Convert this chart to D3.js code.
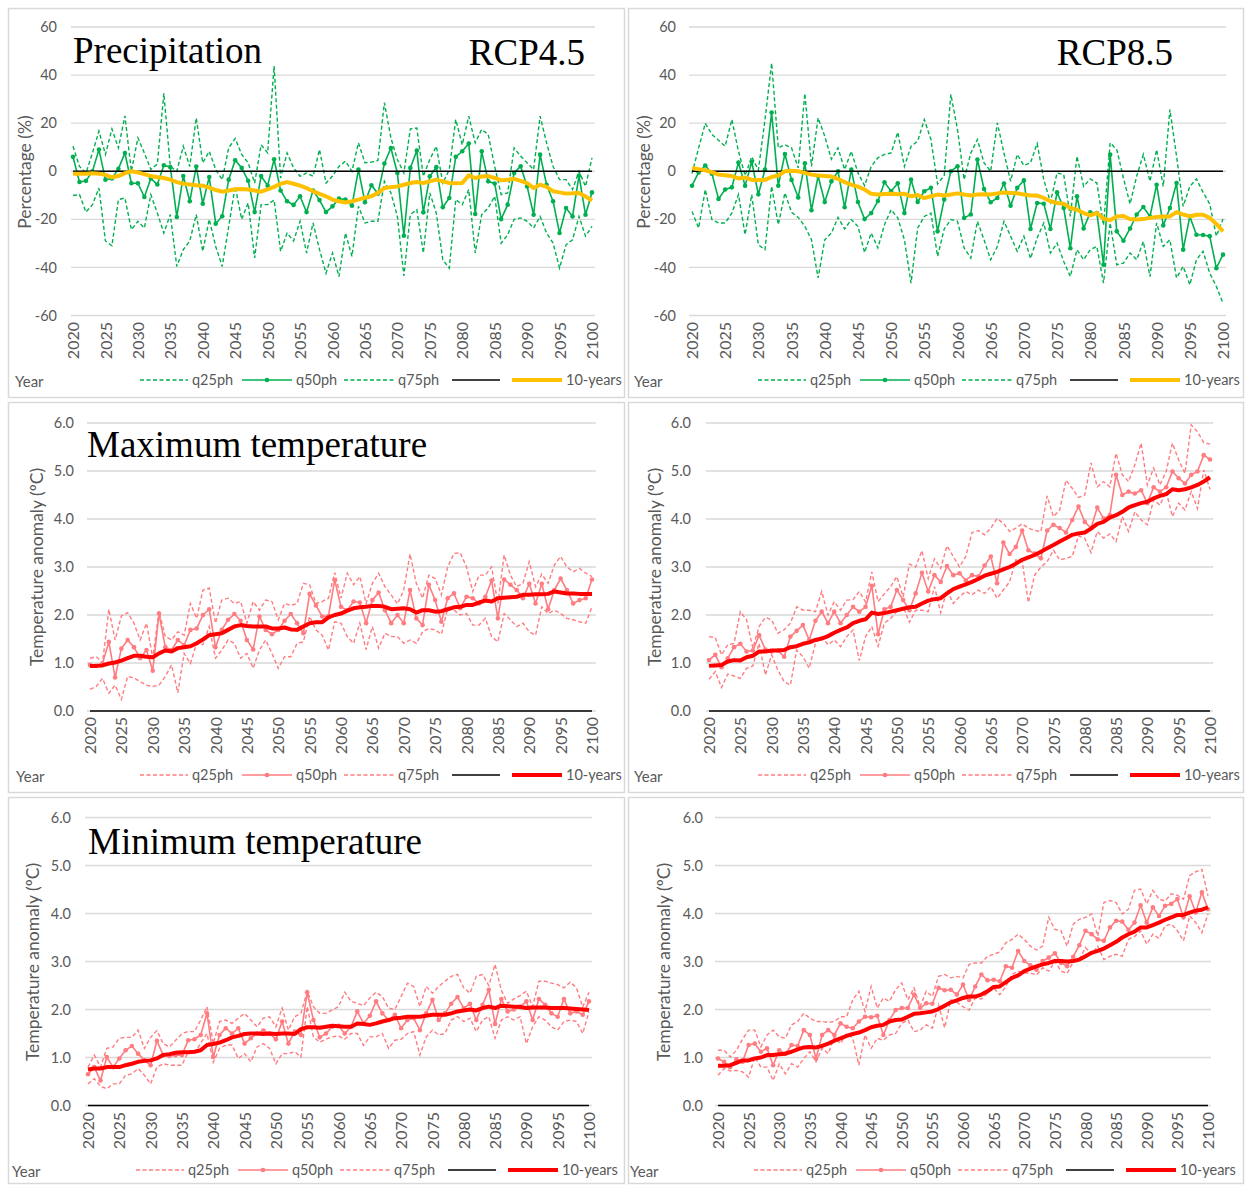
<!DOCTYPE html>
<html><head><meta charset="utf-8">
<script src="https://cdn.jsdelivr.net/npm/d3@7"></script>
<style>body{margin:0;background:#fff} svg{display:block}</style>
</head><body>
<svg id="c" width="1248" height="1186"></svg>
<script>
const years = d3.range(2020, 2101);
const yearTicks = d3.range(2020, 2101, 5);
const precipTicks = [-60, -40, -20, 0, 20, 40, 60];
const tempTicks = [0, 1, 2, 3, 4, 5, 6];
const legendLabels = ["q25ph", "q50ph", "q75ph", "", "10-years"];

// ---- Precipitation RCP4.5 (%) ----
const p45_q25 = [-10.1,-9.7,-17,-13.9,-7,-29,-31,-11.8,-11.1,-24.3,-20.8,-23.6,-9.7,-17.4,-25.7,-18,-39.6,-32.6,-29,-18,-33.3,-20,-31.3,-39.6,-22.9,-6.3,-20,-13.2,-36.1,-13.9,-13.9,-12,-33.3,-25.7,-29,-20.8,-34,-21.5,-32.6,-42.4,-34,-43.8,-25.7,-35.4,-14.6,-21.5,-20.8,-20.8,-4.2,-9,-18.8,-43.5,-18,-16,-34,-9,-17.4,-36.8,-40.3,-11.8,-13.9,-7.6,-34,-18,-15.3,-10.4,-29.9,-26.4,-20,-19.4,-20.8,-23.6,-18.8,-25.7,-29.9,-40.3,-30.6,-28.5,-18.8,-27,-22.9];
const p45_q50 = [6,-4.5,-4,0,9,-3.5,-3,1,7.6,-5,-5,-10.7,-3,-5.5,2.5,1.7,-19,-2,-12.5,2,-13.5,-2.4,-21.8,-18.7,-3.5,4.6,1.4,-4,-17,-2,-6,5,-8,-12.5,-14,-10.4,-17,-8,-12,-17,-14.6,-11.4,-11.8,-14.3,0.7,-12.9,-5.8,-9.3,3.2,9.7,-0.7,-26.8,1.4,8.6,-17.1,-2.1,1.7,-15,-11.1,6,8.3,11.5,-17.8,8.3,-4.2,-5.1,-19.9,-13.9,-0.7,2.1,-6.3,-18.1,6.9,-5.6,-12.5,-25.7,-15.3,-18.8,-1.8,-18.1,-8.8];
const p45_q75 = [10.4,2,-0.7,7.6,16.7,7,17.6,9.7,23,0,13.9,7.6,0.7,3,32.4,2,0,10.4,2,22.2,3.5,8.3,0.7,-3.5,9.7,13.6,7,3.5,-4.9,11,7.6,43.8,-2.8,7.6,1.4,-2.1,-0.7,-2.1,9,-4.9,-2,2,4.2,0,11.8,3.5,3.8,4.5,28.5,13.9,4.9,-0.7,17.6,18,-2.1,4.9,10.4,-4.9,0.7,21.5,11,22.9,11.8,17.4,15.3,2,-9.7,-9,9.7,6.3,3.5,0.7,22.9,11.8,2,-3.5,-3.5,-7.6,0,-6.3,5.6];
const p45_ma = [-1,-1,-1,-0.8,-1,-1.5,-2.5,-2,-0.8,0,-0.5,-1.2,-2,-2.5,-2.8,-3.5,-4.5,-5.2,-5.5,-5.8,-6,-6.8,-7.8,-8.5,-8,-7.5,-7.4,-7.6,-8,-8.5,-7.5,-6.5,-5.2,-4.5,-5.2,-6,-7,-8.3,-9.4,-10.4,-11.8,-12.5,-13,-12.5,-11.8,-11,-10.4,-9,-7,-6.6,-6.3,-5.6,-4.9,-4.5,-4.9,-4.2,-3.5,-4.2,-4.9,-5,-4.9,-1.7,-2.8,-2.2,-2,-2.8,-3.8,-3.5,-3.2,-4,-4.9,-7,-5.6,-6.5,-8.3,-8.8,-9.3,-9.2,-9,-10.5,-12.2];

// ---- Precipitation RCP8.5 (%) ----
const p85_q25 = [-16.7,-23.6,-7.6,-20.1,-21.5,-21.5,-17.4,-9.7,-26.4,-9.7,-30.6,-32.6,-6.3,-22.2,-9,-17.1,-19.2,-22.9,-28.5,-44.4,-28.5,-25.7,-19.2,-24,-20.1,-22.9,-33.8,-25.7,-31.9,-22.2,-16,-19.4,-28.5,-46.5,-23.6,-18.8,-17.4,-35.4,-24,-20.1,-20.8,-31.9,-36.1,-20.8,-28.5,-36.8,-31.3,-20.8,-27,-33.3,-27,-36.3,-27.8,-21.5,-34,-29.9,-37.5,-43.8,-32.6,-36.8,-32.6,-31.3,-46.5,-21.5,-38.9,-38.2,-34,-36.8,-29.2,-43.8,-21.5,-31.3,-28.5,-44.4,-39.6,-47.2,-36.8,-33.3,-42.4,-47.9,-54.9];
const p85_q50 = [-6,-0.5,2.4,-1,-11.5,-7.6,-6.7,3.6,-6,3.9,-9.6,0.7,24.4,-6,7.2,-3.6,-10.9,3.3,-16.2,-2,-12.8,-4.2,0,-15,0.7,-12.8,-19.9,-17.4,-12.4,-4.6,-8.3,-5,-17.4,-3.5,-12.8,-8.3,-6.9,-25,-11.7,0,2.1,-19.4,-18,4.9,-7.4,-12.9,-11.1,-5.1,-14.3,-6.9,-3.8,-24,-13.2,-13.5,-24,-8.8,-15.3,-32,-10.4,-23.8,-17.1,-17.4,-38.9,6.9,-25,-28.9,-23.8,-18,-14.9,-18.8,-5.6,-22.5,-15.3,-4.9,-32.6,-18.8,-26.4,-26.5,-27,-40.3,-34.7];
const p85_q75 = [-1,9.7,19.9,15.3,12.9,10.4,21.5,8.3,-1.8,6,0.5,21.5,45,9.7,11,9.7,1.4,32.4,2,22.2,14.6,5,9.7,0.7,8.3,-0.7,-6,2,5.6,7,7.6,16.2,2,10.4,12.5,21.5,13.2,-5.3,-1.8,32,17.4,-3.5,7.6,13.2,3.5,0,20.1,7.6,-4.2,7,2.4,3.5,11.5,-3.5,-12.9,-0.7,-1.4,-18.8,6.3,-6.3,-3.2,-4.9,-22.5,11.8,9,-2.8,-13.6,-2,7,-4.2,9,-6.3,25.7,6.3,-14.6,-6.3,-3.2,-8.8,-13.6,-27,-19.9];
const p85_ma = [1.4,0.8,0.4,-0.4,-1.4,-1.7,-2,-3,-2.6,-3.6,-3.6,-3.6,-2.4,-1.8,0,0.2,0,-0.7,-1.4,-1.8,-2,-2.2,-3.2,-4.5,-5.6,-6.4,-7.6,-9.4,-9.7,-9.5,-9.4,-9.6,-9.4,-10.4,-9.9,-11.2,-10.4,-9.7,-10.1,-9.7,-9.2,-9.7,-10.1,-9.7,-9.6,-9.7,-9.2,-8.8,-9,-9.2,-9.7,-10.1,-10.1,-11.1,-12.5,-13.2,-13.5,-15.3,-16,-17.4,-18.3,-17.4,-19.7,-20.4,-18.8,-18.6,-19.9,-20.1,-19.9,-19.4,-19,-18.8,-18.8,-17,-18,-18.8,-18.1,-18.1,-19.4,-21.9,-25];

// ---- Maximum temperature RCP4.5 (ºC) ----
const tx45_q25 = [0.45,0.51,0.68,0.37,0.54,0.24,0.72,0.69,0.61,0.54,0.51,0.54,0.72,0.96,0.38,1.2,0.99,1.41,1.38,1.76,1.1,1.27,1.48,1.41,1.1,1.2,0.89,1.27,1.48,1.2,0.89,1.13,1.13,1.41,1.44,1.97,1.69,1.58,1.27,1.86,1.83,1.55,1.41,1.83,1.28,1.76,1.31,1.62,1.55,1.55,1.41,1.48,1.41,1.65,1.72,1.69,1.6,2.14,2.1,2.0,2.03,1.79,1.79,1.93,1.55,1.44,2.03,1.9,1.76,1.83,1.65,1.58,2.17,2.03,2.1,2.03,1.93,1.9,1.86,1.83,2.17];
const tx45_q50 = [0.96,0.94,0.99,1.44,0.7,1.3,1.48,1.33,1.1,1.27,0.84,2.03,1.33,1.27,1.48,1.37,1.69,1.72,2.0,2.12,1.33,1.69,1.9,2.02,1.88,1.48,1.28,1.97,1.69,1.6,1.69,1.88,2.02,1.83,1.62,2.44,2.2,1.97,1.98,2.73,2.17,2.1,2.28,2.26,1.83,2.31,2.47,2.1,1.83,2.0,1.83,2.52,1.93,1.79,2.63,2.31,1.86,2.35,2.45,2.14,2.38,2.35,2.24,2.38,2.72,1.93,2.74,2.63,2.52,2.35,2.65,2.24,2.65,2.12,2.52,2.76,2.52,2.24,2.31,2.35,2.74];
const tx45_q75 = [1.1,1.13,1.0,2.12,1.48,1.98,2.05,1.83,1.48,1.83,1.1,2.08,1.55,1.48,1.65,1.58,2.24,1.93,2.52,2.56,1.83,2.31,2.35,2.24,2.28,1.83,2.28,2.1,2.31,2.28,1.9,2.24,2.2,2.24,2.66,2.63,2.24,2.28,2.35,2.88,2.35,2.87,2.63,2.8,2.24,2.66,2.87,2.59,2.42,2.23,2.52,3.27,2.66,2.35,2.83,2.76,2.42,3.0,3.28,3.3,3.0,2.49,2.83,2.83,3.0,2.24,3.25,2.83,2.59,2.66,3.11,2.59,2.85,2.66,3.04,3.22,3.0,2.9,2.97,2.87,2.8];
const tx45_ma = [0.94,0.94,0.95,0.99,1.01,1.05,1.1,1.15,1.15,1.13,1.12,1.2,1.26,1.24,1.31,1.33,1.35,1.41,1.49,1.58,1.6,1.62,1.69,1.76,1.79,1.77,1.76,1.76,1.76,1.72,1.72,1.74,1.7,1.69,1.76,1.83,1.85,1.85,1.95,2.0,2.03,2.09,2.14,2.16,2.17,2.19,2.19,2.17,2.12,2.13,2.14,2.12,2.05,2.1,2.1,2.07,2.08,2.12,2.16,2.17,2.21,2.21,2.26,2.3,2.28,2.35,2.36,2.37,2.38,2.42,2.42,2.43,2.43,2.44,2.49,2.47,2.45,2.45,2.44,2.44,2.44];

// ---- Maximum temperature RCP8.5 (ºC) ----
const tx85_q25 = [0.66,0.82,0.49,0.77,0.73,0.68,0.89,0.94,1.41,0.75,1.17,0.85,0.61,0.54,1.27,1.13,0.89,1.41,1.55,1.38,1.48,1.34,1.55,1.69,1.05,1.55,1.76,1.35,1.83,1.93,2.07,2.17,1.85,2.1,2.1,2.07,2.59,2.05,2.52,2.24,2.38,2.49,2.42,2.52,2.45,2.59,2.35,2.52,2.69,3.15,3.12,2.26,2.83,3.0,3.11,3.35,3.15,3.18,3.22,3.65,3.6,3.3,3.74,3.6,3.69,3.53,4.05,3.74,4.15,3.98,3.88,4.4,4.29,4.57,4.05,4.33,4.19,4.57,4.22,5.02,4.62];
const tx85_q50 = [1.06,1.17,0.91,1.1,1.33,1.4,1.24,1.26,1.58,1.28,1.24,1.26,1.13,1.55,1.67,1.79,1.48,1.88,2.07,1.83,2.07,1.83,2.0,2.17,2.07,2.17,2.61,1.6,2.12,2.17,2.52,2.31,2.1,2.45,2.88,2.49,2.83,2.69,3.02,2.83,2.87,2.72,2.83,2.8,3.03,3.22,2.66,3.51,3.27,3.42,3.76,3.35,3.28,3.18,3.76,3.88,3.81,3.72,3.98,4.26,3.94,3.81,4.24,4.01,4.08,4.92,4.5,4.57,4.53,4.6,4.33,4.66,4.57,4.66,4.99,4.85,4.74,4.92,4.99,5.33,5.24];
const tx85_q75 = [1.55,1.53,1.17,1.38,1.41,2.07,1.9,1.31,1.76,1.95,1.9,1.62,1.69,1.83,2.17,2.1,2.1,2.07,2.49,2.0,2.28,2.1,2.31,2.32,2.49,2.27,2.9,2.28,2.44,2.59,2.8,2.38,3.06,3.0,3.34,2.76,3.17,2.97,3.44,3.22,3.0,3.22,3.72,3.76,3.67,3.81,4.01,3.91,3.74,3.81,3.9,3.81,3.76,3.74,4.48,4.05,4.19,4.81,4.64,4.45,4.5,5.17,4.67,4.78,4.67,5.37,4.92,4.78,5.13,5.58,4.71,5.06,4.71,4.99,5.58,5.23,4.95,5.96,5.82,5.59,5.56];
const tx85_ma = [0.94,0.95,0.96,1.03,1.06,1.05,1.12,1.15,1.24,1.24,1.26,1.26,1.27,1.33,1.35,1.4,1.43,1.48,1.51,1.56,1.63,1.69,1.74,1.83,1.88,1.91,2.05,2.02,2.04,2.07,2.1,2.13,2.16,2.17,2.24,2.3,2.33,2.35,2.45,2.54,2.59,2.64,2.69,2.75,2.82,2.86,2.9,2.95,3.0,3.07,3.15,3.2,3.25,3.32,3.39,3.46,3.53,3.6,3.67,3.7,3.72,3.8,3.9,3.94,4.03,4.08,4.15,4.24,4.29,4.33,4.36,4.43,4.48,4.52,4.62,4.6,4.62,4.66,4.71,4.78,4.87];

// ---- Minimum temperature RCP4.5 (ºC) ----
const tn45_q25 = [0.45,0.56,0.4,0.35,0.45,0.45,0.63,0.66,0.77,0.63,0.45,0.8,0.87,0.84,0.84,0.84,1.12,1.08,1.3,1.5,0.9,1.19,1.26,1.26,0.98,1.08,0.91,1.22,1.29,1.19,0.87,1.08,1.08,1.12,1.01,2.06,1.43,1.32,1.38,1.43,1.45,1.38,1.5,1.5,1.25,1.43,1.43,1.5,1.19,1.36,1.38,1.5,1.54,1.05,1.43,1.57,1.47,1.5,1.78,1.85,1.75,1.82,1.54,1.78,1.85,1.4,1.78,1.85,1.78,1.85,1.29,1.64,1.85,1.78,1.64,1.57,1.75,1.78,1.75,1.5,1.95];
const tn45_q50 = [0.65,0.8,0.52,1.01,0.8,0.98,1.15,1.24,1.08,0.94,0.84,1.35,1.05,1.03,1.05,1.05,1.36,1.38,1.47,1.92,1.01,1.47,1.61,1.5,1.61,1.29,1.4,1.5,1.56,1.5,1.38,1.75,1.29,1.54,1.47,2.36,1.78,1.42,1.5,1.64,1.66,1.5,1.64,1.96,1.71,1.87,2.17,1.92,1.78,1.89,1.61,1.78,1.82,1.57,1.92,2.2,1.78,1.92,2.12,2.26,2.03,2.12,1.78,2.1,2.41,1.7,2.22,1.96,2.0,2.06,2.17,1.78,2.22,2.1,1.92,1.85,2.22,1.92,1.96,1.89,2.17];
const tn45_q75 = [0.8,1.05,0.8,1.19,1.22,1.4,1.42,1.42,1.57,1.19,1.42,1.56,1.29,1.22,1.36,1.5,1.54,1.54,1.78,2.06,1.29,1.75,1.78,1.71,1.82,1.92,1.78,1.64,1.82,1.85,1.64,2.03,1.57,1.85,1.92,2.38,2.06,1.92,1.92,1.99,2.06,2.36,2.17,2.13,2.08,2.24,2.36,2.27,2.03,2.0,2.27,2.55,2.48,2.06,2.48,2.34,2.48,2.59,2.69,2.73,2.45,2.34,2.69,2.73,2.5,2.94,2.4,2.13,2.22,2.29,2.38,2.06,2.59,2.59,2.55,2.52,2.45,2.57,2.45,2.05,2.36];
const tn45_ma = [0.75,0.77,0.77,0.8,0.8,0.8,0.84,0.87,0.91,0.93,0.94,0.98,1.05,1.07,1.1,1.11,1.11,1.12,1.15,1.26,1.28,1.31,1.36,1.42,1.45,1.49,1.5,1.5,1.49,1.5,1.49,1.5,1.5,1.49,1.59,1.63,1.63,1.62,1.64,1.66,1.65,1.64,1.64,1.71,1.7,1.68,1.71,1.75,1.78,1.82,1.83,1.85,1.85,1.85,1.87,1.89,1.89,1.89,1.92,1.96,1.98,2.0,1.98,2.03,2.06,2.03,2.08,2.07,2.06,2.05,2.03,2.04,2.04,2.04,2.03,2.03,2.03,2.02,2.01,2.0,1.99];

// ---- Minimum temperature RCP8.5 (ºC) ----
const tn85_q25 = [0.63,0.77,0.72,0.73,0.7,0.59,1.01,0.8,0.8,0.52,0.87,0.66,0.87,0.8,0.98,1.12,0.91,1.19,1.08,1.43,1.29,1.5,1.4,0.84,1.47,1.19,1.4,1.36,1.47,1.5,1.71,1.78,1.54,1.57,1.68,1.61,2.1,1.62,2.2,2.15,2.06,1.99,2.24,2.22,2.34,2.45,2.31,2.48,2.73,2.8,2.76,2.76,2.72,2.87,2.8,3.0,2.8,2.75,2.99,3.04,3.29,3.15,3.32,3.04,3.11,3.15,3.11,3.46,3.52,3.64,3.36,3.57,3.48,3.74,3.78,3.64,3.43,3.95,3.81,3.6,3.99];
const tn85_q50 = [0.98,0.91,0.8,0.96,0.91,1.26,1.29,1.12,1.19,0.84,1.15,1.08,1.26,1.24,1.57,1.47,0.98,1.47,1.57,1.47,1.71,1.64,1.61,1.75,1.85,1.84,1.87,1.47,1.78,1.99,2.03,2.03,2.31,2.03,2.13,2.12,2.45,2.4,2.41,2.31,2.52,2.2,2.48,2.73,2.61,2.62,2.59,2.9,2.87,3.22,3.01,2.92,2.83,3.01,3.08,3.17,2.97,2.9,3.1,3.34,3.64,3.57,3.46,3.43,3.71,3.85,3.83,3.66,3.81,4.17,3.81,4.13,3.95,4.16,4.2,4.3,3.92,4.36,4.02,4.44,4.09];
const tn85_q75 = [1.15,1.15,1.01,1.15,1.38,1.57,1.57,1.22,1.47,1.57,1.43,1.4,1.68,1.75,1.92,1.82,1.75,1.75,1.73,1.75,1.85,1.85,2.2,2.38,1.96,2.48,2.03,2.24,2.17,2.41,2.55,2.2,2.45,2.06,2.38,2.27,2.69,2.73,2.66,2.69,2.66,2.94,2.97,2.97,3.11,3.15,3.2,3.39,3.46,3.57,3.46,3.32,3.24,3.32,3.92,3.67,3.64,3.32,3.78,3.88,3.92,3.99,3.53,4.23,4.27,4.23,3.99,4.09,4.48,4.51,4.2,4.48,4.3,4.26,4.41,4.38,4.3,4.79,4.87,4.92,4.37];
const tn85_ma = [0.83,0.83,0.84,0.89,0.94,0.94,0.98,1.0,1.05,1.05,1.07,1.08,1.12,1.17,1.21,1.22,1.21,1.24,1.29,1.35,1.4,1.45,1.49,1.52,1.57,1.63,1.66,1.68,1.75,1.78,1.79,1.85,1.91,1.92,1.94,1.96,2.01,2.08,2.15,2.19,2.24,2.27,2.27,2.31,2.38,2.47,2.48,2.57,2.66,2.71,2.8,2.85,2.9,2.94,2.97,3.01,3.01,3.0,3.01,3.04,3.11,3.18,3.22,3.27,3.34,3.41,3.5,3.57,3.62,3.71,3.71,3.76,3.81,3.87,3.92,3.97,3.97,4.02,4.06,4.08,4.13];

const GREEN = "#00b050", ORANGE = "#ffc000", LRED = "#ff7c80", RED = "#ff0000";
const GRID = "#d9d9d9", TXT = "#595959";
const SANS = "Lato, 'Open Sans', sans-serif";
const SERIF = "'Liberation Serif', 'DejaVu Serif', serif";

const svg = d3.select("#c");
svg.append("rect").attr("width", 1248).attr("height", 1186).attr("fill", "#fff");

function drawPanel(c) {
  const g = svg.append("g");
  g.append("rect").attr("x", c.frame[0] + 0.5).attr("y", c.frame[1] + 0.5)
    .attr("width", c.frame[2]).attr("height", c.frame[3])
    .attr("fill", "none").attr("stroke", GRID).attr("stroke-width", 1.5);

  const x = d3.scaleLinear().domain([2020, 2100]).range(c.xr);
  const y = d3.scaleLinear().domain(c.yd).range(c.yr);

  // gridlines
  g.selectAll("line.grid").data(c.ticks).join("line")
    .attr("x1", c.gx[0]).attr("x2", c.gx[1])
    .attr("y1", d => y(d)).attr("y2", d => y(d))
    .attr("stroke", GRID).attr("stroke-width", 1.4);

  // y tick labels
  const ya = d3.axisLeft(y).tickValues(c.ticks).tickSize(0).tickPadding(0).tickFormat(c.fmt);
  const yg = g.append("g").attr("transform", `translate(${c.tickRight},0)`).call(ya);
  yg.select(".domain").remove();
  yg.selectAll("text").attr("fill", TXT).style("font-family", SANS).style("font-size", "14.5px");

  // x (year) labels, rotated
  const xa = d3.axisBottom(x).tickValues(yearTicks).tickSize(0).tickPadding(0).tickFormat(d => String(d));
  const xg = g.append("g").attr("transform", `translate(0,${c.yearY})`).call(xa);
  xg.select(".domain").remove();
  xg.selectAll("text").attr("fill", TXT).style("font-family", SANS).style("font-size", "16px")
    .attr("transform", "rotate(-90)").attr("text-anchor", "end")
    .attr("x", 0).attr("y", 0).attr("dy", "0.35em");

  // y title
  g.append("text").attr("transform", `translate(${c.ytX},${c.ytY}) rotate(-90)`)
    .attr("text-anchor", "middle").attr("dy", "0.35em")
    .attr("fill", TXT).style("font-family", SANS).style("font-size", "17.5px").text(c.yTitle);

  const line = d3.line().x((d, i) => x(years[i])).y(d => y(d));

  g.append("path").attr("d", line(c.q25)).attr("fill", "none").attr("stroke", c.col)
    .attr("stroke-width", 1.4).attr("stroke-dasharray", "4,2.5");
  g.append("path").attr("d", line(c.q50)).attr("fill", "none").attr("stroke", c.col)
    .attr("stroke-width", 1.6);
  g.selectAll("circle.q50").data(c.q50).join("circle")
    .attr("cx", (d, i) => x(years[i])).attr("cy", d => y(d)).attr("r", 2.3).attr("fill", c.col);
  g.append("path").attr("d", line(c.q75)).attr("fill", "none").attr("stroke", c.col)
    .attr("stroke-width", 1.4).attr("stroke-dasharray", "4,2.5");
  g.append("line").attr("x1", x(2020)).attr("x2", x(2100)).attr("y1", y(0)).attr("y2", y(0))
    .attr("stroke", "#000").attr("stroke-width", 1.6);
  g.append("path").attr("d", line(c.ma)).attr("fill", "none").attr("stroke", c.maCol)
    .attr("stroke-width", 4).attr("stroke-linejoin", "round");

  // titles
  c.titles.forEach(t => {
    g.append("text").attr("x", t.x).attr("y", t.y).attr("text-anchor", t.anchor || "start")
      .attr("fill", "#000").style("font-family", SERIF).style("font-size", "37px").text(t.text);
  });

  // legend
  const L = c.legX, ly = c.legY;
  const offs = [0, 102, 204, 312, 372];
  const lens = [48, 50, 50, 48, 50];
  offs.forEach((o, i) => {
    const x0 = L + o, x1 = x0 + lens[i];
    const ln = g.append("line").attr("x1", x0).attr("x2", x1).attr("y1", ly).attr("y2", ly);
    if (i === 0 || i === 2) ln.attr("stroke", c.col).attr("stroke-width", 1.4).attr("stroke-dasharray", "4,2.5");
    if (i === 1) {
      ln.attr("stroke", c.col).attr("stroke-width", 1.6);
      g.append("circle").attr("cx", (x0 + x1) / 2).attr("cy", ly).attr("r", 2.3).attr("fill", c.col);
    }
    if (i === 3) ln.attr("stroke", "#000").attr("stroke-width", 1.6);
    if (i === 4) ln.attr("stroke", c.maCol).attr("stroke-width", 4);
    if (legendLabels[i]) {
      g.append("text").attr("x", x1 + 4).attr("y", ly).attr("dy", "0.35em")
        .attr("fill", TXT).style("font-family", SANS).style("font-size", "14.5px").text(legendLabels[i]);
    }
  });
  g.append("text").attr("x", c.yearX).attr("y", ly + 2).attr("dy", "0.35em")
    .attr("fill", TXT).style("font-family", SANS).style("font-size", "15px").text("Year");
}

const fmtP = d => String(d), fmtT = d => d.toFixed(1);
const pTitle = "Percentage (%)", tTitle = "Temperature anomaly (ºC)";

drawPanel({frame: [8, 8, 616, 389], xr: [73, 592], yd: [-60, 60], yr: [315.5, 27], ticks: precipTicks, fmt: fmtP,
  gx: [71, 595], tickRight: 57, yearY: 322, ytX: 25, ytY: 172, yTitle: pTitle,
  q25: p45_q25, q50: p45_q50, q75: p45_q75, ma: p45_ma, col: GREEN, maCol: ORANGE,
  titles: [{text: "Precipitation", x: 73, y: 63}, {text: "RCP4.5", x: 585, y: 65, anchor: "end"}],
  legX: 140, legY: 380, yearX: 15});

drawPanel({frame: [628, 8, 615, 389], xr: [692, 1223], yd: [-60, 60], yr: [315.5, 27], ticks: precipTicks, fmt: fmtP,
  gx: [689, 1226], tickRight: 676, yearY: 322, ytX: 644, ytY: 172, yTitle: pTitle,
  q25: p85_q25, q50: p85_q50, q75: p85_q75, ma: p85_ma, col: GREEN, maCol: ORANGE,
  titles: [{text: "RCP8.5", x: 1173, y: 65, anchor: "end"}],
  legX: 758, legY: 380, yearX: 634});

drawPanel({frame: [8, 402, 616, 390], xr: [90, 592], yd: [0, 6], yr: [711, 423], ticks: tempTicks, fmt: fmtT,
  gx: [87, 596], tickRight: 74, yearY: 717, ytX: 37, ytY: 567, yTitle: tTitle,
  q25: tx45_q25, q50: tx45_q50, q75: tx45_q75, ma: tx45_ma, col: LRED, maCol: RED,
  titles: [{text: "Maximum temperature", x: 87, y: 457}],
  legX: 140, legY: 775, yearX: 16});

drawPanel({frame: [628, 402, 615, 390], xr: [709, 1210], yd: [0, 6], yr: [711, 423], ticks: tempTicks, fmt: fmtT,
  gx: [706, 1213], tickRight: 691, yearY: 717, ytX: 655, ytY: 567, yTitle: tTitle,
  q25: tx85_q25, q50: tx85_q50, q75: tx85_q75, ma: tx85_ma, col: LRED, maCol: RED,
  titles: [],
  legX: 758, legY: 775, yearX: 634});

drawPanel({frame: [8, 797, 616, 386], xr: [88, 589], yd: [0, 6], yr: [1105.5, 817.5], ticks: tempTicks, fmt: fmtT,
  gx: [85, 592], tickRight: 71, yearY: 1112, ytX: 33, ytY: 962, yTitle: tTitle,
  q25: tn45_q25, q50: tn45_q50, q75: tn45_q75, ma: tn45_ma, col: LRED, maCol: RED,
  titles: [{text: "Minimum temperature", x: 88, y: 854}],
  legX: 136, legY: 1170, yearX: 12});

drawPanel({frame: [628, 797, 615, 386], xr: [718, 1208], yd: [0, 6], yr: [1105.5, 817.5], ticks: tempTicks, fmt: fmtT,
  gx: [715, 1211], tickRight: 703, yearY: 1112, ytX: 664, ytY: 962, yTitle: tTitle,
  q25: tn85_q25, q50: tn85_q50, q75: tn85_q75, ma: tn85_ma, col: LRED, maCol: RED,
  titles: [],
  legX: 754, legY: 1170, yearX: 630});
</script>
</body></html>
